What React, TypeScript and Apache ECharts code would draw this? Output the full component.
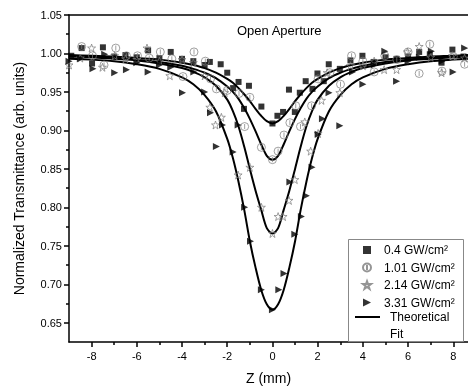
import React, { useEffect, useRef } from "react";
import * as echarts from "echarts";

// ---- Fit curves ----
const zFit = [-9, -8, -7, -6, -5, -4, -3.5, -3, -2.5, -2, -1.75, -1.5, -1.25, -1, -0.75, -0.5, -0.25, 0, 0.25, 0.5, 0.75, 1, 1.25, 1.5, 1.75, 2, 2.5, 3, 3.5, 4, 5, 6, 7, 8, 8.65];
const fit04 = [0.998, 0.997, 0.996, 0.994, 0.992, 0.988, 0.985, 0.981, 0.975, 0.967, 0.962, 0.955, 0.947, 0.938, 0.928, 0.919, 0.912, 0.909, 0.912, 0.919, 0.928, 0.938, 0.947, 0.955, 0.962, 0.967, 0.975, 0.981, 0.985, 0.988, 0.992, 0.994, 0.996, 0.997, 0.998];
const fit101 = [0.997, 0.996, 0.994, 0.992, 0.989, 0.984, 0.98, 0.975, 0.968, 0.957, 0.95, 0.941, 0.929, 0.915, 0.899, 0.882, 0.867, 0.862, 0.867, 0.882, 0.899, 0.915, 0.929, 0.941, 0.95, 0.957, 0.968, 0.975, 0.98, 0.984, 0.989, 0.992, 0.994, 0.996, 0.997];
const fit214 = [0.996, 0.995, 0.993, 0.991, 0.987, 0.981, 0.976, 0.969, 0.958, 0.94, 0.925, 0.905, 0.879, 0.85, 0.822, 0.797, 0.773, 0.766, 0.773, 0.797, 0.822, 0.85, 0.879, 0.905, 0.925, 0.94, 0.958, 0.969, 0.976, 0.981, 0.987, 0.991, 0.993, 0.995, 0.996];
const fit331 = [0.993, 0.992, 0.99, 0.986, 0.98, 0.969, 0.96, 0.946, 0.925, 0.889, 0.864, 0.833, 0.797, 0.756, 0.722, 0.693, 0.674, 0.667, 0.674, 0.693, 0.722, 0.756, 0.797, 0.833, 0.864, 0.889, 0.925, 0.946, 0.96, 0.969, 0.98, 0.986, 0.99, 0.992, 0.993];

// ---- Measured points ----
const z04 = [-8.9, -8.44, -7.98, -7.5, -7.0, -6.5, -6.0, -5.5, -5.0, -4.5, -4.0, -3.5, -3.0, -2.77, -2.29, -2.0, -1.74, -1.5, -1.26, -1.04, -0.49, 0, 0.22, 0.47, 0.73, 0.99, 1.21, 1.47, 1.77, 1.99, 2.27, 2.49, 2.98, 3.45, 3.98, 4.48, 5.0, 5.49, 6.0, 6.49, 6.96, 7.48, 7.96, 8.45];
const t04 = [0.997, 1.007, 0.987, 1.008, 0.996, 0.998, 0.995, 1.004, 0.994, 1.002, 0.993, 0.99, 0.985, 0.989, 0.986, 0.975, 0.955, 0.963, 0.928, 0.958, 0.931, 0.909, 0.919, 0.924, 0.953, 0.924, 0.949, 0.964, 0.954, 0.974, 0.964, 0.986, 0.98, 0.991, 0.997, 0.989, 0.995, 0.993, 0.996, 1.002, 0.999, 0.988, 1.005, 0.996];

const z101 = [-8.44, -7.96, -7.45, -6.93, -6.46, -5.97, -5.45, -4.96, -4.45, -3.96, -3.47, -2.97, -2.74, -2.48, -2.0, -1.48, -1.23, -1.0, -0.49, 0, 0.25, 0.51, 0.77, 1.03, 1.24, 1.73, 2.02, 2.54, 3.01, 3.5, 4.0, 4.5, 4.97, 5.5, 6.0, 6.49, 6.96, 7.5, 8.0, 8.5];
const t101 = [1.009, 0.997, 0.985, 1.007, 0.997, 0.997, 0.994, 1.002, 0.993, 0.97, 1.002, 0.99, 0.967, 0.954, 0.952, 0.948, 0.905, 0.943, 0.878, 0.862, 0.873, 0.894, 0.91, 0.932, 0.905, 0.932, 0.967, 0.975, 0.96, 0.997, 0.99, 0.976, 0.997, 0.992, 1.002, 0.974, 1.012, 0.977, 0.996, 0.986];

const z214 = [-9.0, -8.5, -8.0, -7.52, -6.98, -6.5, -6.0, -5.55, -5.0, -4.54, -4.0, -3.5, -3.0, -2.77, -2.52, -2.26, -2.11, -1.52, -1.0, -0.49, 0, 0.25, 0.47, 0.73, 0.99, 1.43, 1.69, 2.02, 2.17, 2.42, 2.98, 3.45, 4.0, 4.5, 4.94, 5.49, 5.97, 6.49, 7.0, 7.48, 7.96, 8.5];
const t214 = [0.985, 0.994, 1.007, 0.982, 0.997, 0.993, 0.992, 1.007, 0.99, 0.971, 0.992, 0.988, 0.971, 0.93, 0.907, 0.917, 0.949, 0.842, 0.852, 0.8, 0.766, 0.788, 0.788, 0.809, 0.836, 0.911, 0.873, 0.896, 0.939, 0.975, 0.949, 0.984, 0.984, 0.99, 0.979, 0.979, 1.002, 1.009, 0.995, 0.975, 0.997, 0.994];

const z331 = [-9.0, -8.5, -7.94, -7.42, -6.98, -6.46, -6.0, -5.5, -5.0, -4.5, -3.98, -3.48, -3.0, -2.74, -2.48, -2.21, -1.74, -1.52, -1.23, -0.97, -0.49, 0, 0.28, 0.51, 0.77, 0.99, 1.28, 1.5, 1.75, 2.02, 2.21, 2.5, 2.98, 3.54, 4.0, 4.5, 4.97, 5.49, 6.0, 6.5, 7.03, 7.5, 7.99, 8.5];
const t331 = [0.99, 0.993, 0.98, 0.999, 0.975, 0.979, 0.988, 0.976, 0.985, 0.982, 0.949, 0.976, 0.95, 0.923, 0.879, 0.907, 0.872, 0.907, 0.8, 0.756, 0.693, 0.667, 0.693, 0.714, 0.833, 0.765, 0.788, 0.815, 0.852, 0.895, 0.915, 0.949, 0.906, 0.976, 0.96, 0.985, 1.003, 0.964, 0.99, 0.995, 1.003, 0.99, 0.976, 1.007];

// ---- Axis ticks ----
const xMajor = [-8, -6, -4, -2, 0, 2, 4, 6, 8];
const xMinor = [-7, -5, -3, -1, 1, 3, 5, 7];
const yMajor = [0.65, 0.7, 0.75, 0.8, 0.85, 0.9, 0.95, 1.0, 1.05];
const yMinor = [0.675, 0.725, 0.775, 0.825, 0.875, 0.925, 0.975, 1.025];

const names = ["0.4 GW/cm²", "1.01 GW/cm²", "2.14 GW/cm²", "3.31 GW/cm²"];
const fitName = "Theoretical";

const FONT = "'Liberation Sans', Arial, sans-serif";
const GRAY = "#7a7a7a";

const circleBar = "path://M0,-5 A5,5 0 1,1 0,5 A5,5 0 1,1 0,-5 Z M0,-3.2 L0,3.2";
const starPath = "path://M0,-5 L1.2,-1.6 L4.8,-1.6 L1.9,0.6 L3,4.2 L0,2 L-3,4.2 L-1.9,0.6 L-4.8,-1.6 L-1.2,-1.6 Z";
const rightTri = "path://M0,0 L10,5 L0,10 Z";
const lineIcon = "path://M0,0 L25,0 L25,2 L0,2 Z";

const zip = (a: number[], b: number[]) => a.map((v, i) => [v, b[i]]);

export default function App() {
  const ref = useRef<HTMLDivElement>(null);
  useEffect(() => {
    if (!ref.current) return;
    const chart = echarts.init(ref.current, null, { renderer: "svg" });
    const fitLine = (vals: number[]) => ({
      name: fitName,
      type: "line",
      data: zip(zFit, vals),
      smooth: 0.3,
      showSymbol: false,
      symbol: "none",
      lineStyle: { color: "#000", width: 2 },
      itemStyle: { color: "#000" },
      z: 3,
    });
    const axisCommon = {
      axisLine: { show: true, onZero: false, lineStyle: { color: "#000", width: 1.5 } },
      splitLine: { show: false },
    };
    const hidden = {
      axisLine: { show: false, onZero: false },
      splitLine: { show: false },
      axisLabel: { show: false },
    };
    const legendText = { fontFamily: FONT, fontSize: 12, color: "#000" };
    chart.setOption({
      animation: false,
      textStyle: { fontFamily: FONT },
      grid: { left: 69, top: 15, right: 0, bottom: 44 },
      title: {
        text: "Open Aperture",
        left: 232,
        top: 19,
        textStyle: { fontFamily: FONT, fontSize: 13, fontWeight: "normal", color: "#000" },
      },
      xAxis: [
        {
          type: "value",
          min: -9,
          max: 8.65,
          position: "bottom",
          ...axisCommon,
          axisTick: { show: true, customValues: xMajor, length: 5, lineStyle: { color: "#000", width: 1.5 } },
          axisLabel: { customValues: xMajor, color: "#000", fontSize: 11, margin: 8, fontFamily: FONT },
          name: "Z (mm)",
          nameLocation: "middle",
          nameGap: 29,
          nameTextStyle: { fontSize: 14, color: "#000", fontFamily: FONT },
        },
        {
          type: "value",
          min: -9,
          max: 8.65,
          position: "bottom",
          ...hidden,
          axisTick: { show: true, customValues: xMinor, length: 3, lineStyle: { color: "#000", width: 1.5 } },
        },
        {
          type: "value",
          min: -9,
          max: 8.65,
          position: "top",
          ...axisCommon,
          axisTick: { show: false },
          axisLabel: { show: false },
        },
      ],
      yAxis: [
        {
          type: "value",
          min: 0.625,
          max: 1.05,
          position: "left",
          ...axisCommon,
          axisTick: { show: true, customValues: yMajor, length: 5, lineStyle: { color: "#000", width: 1.5 } },
          axisLabel: {
            customValues: yMajor,
            color: "#000",
            fontSize: 11,
            margin: 7,
            fontFamily: FONT,
            formatter: (v: number) => v.toFixed(2),
          },
          name: "Normalized Transmittance (arb. units)",
          nameLocation: "middle",
          nameGap: 43,
          nameTextStyle: { fontSize: 14, color: "#000", fontFamily: FONT },
        },
        {
          type: "value",
          min: 0.625,
          max: 1.05,
          position: "left",
          ...hidden,
          axisTick: { show: true, customValues: yMinor, length: 3, lineStyle: { color: "#000", width: 1.5 } },
        },
      ],
      legend: [
        {
          orient: "vertical",
          left: 362,
          top: 244,
          padding: 0,
          itemGap: 5.5,
          itemWidth: 8,
          itemHeight: 8,
          z: 11,
          textStyle: { ...legendText, padding: [0, 0, 0, 8] },
          data: [
            { name: names[0], icon: "rect", itemStyle: { color: "#000" } },
            { name: names[1], icon: circleBar },
            { name: names[2], icon: starPath },
            { name: names[3], icon: rightTri, itemStyle: { color: "#000" } },
          ],
        },
        {
          orient: "vertical",
          left: 355,
          top: 311,
          padding: 0,
          itemWidth: 25,
          itemHeight: 2,
          z: 11,
          textStyle: { ...legendText, padding: [0, 0, 0, 5] },
          data: [{ name: fitName, icon: lineIcon, itemStyle: { color: "#000" } }],
        },
      ],
      graphic: [
        {
          type: "rect",
          z: 10,
          shape: { x: 348.5, y: 239.5, width: 115, height: 102 },
          style: { fill: "#fff", stroke: "#888", lineWidth: 1 },
        },
        {
          type: "text",
          left: 390,
          top: 328,
          z: 12,
          style: { text: "Fit", font: `12px ${FONT}`, fill: "#000" },
        },
      ],
      series: [
        fitLine(fit04),
        fitLine(fit101),
        fitLine(fit214),
        fitLine(fit331),
        {
          name: names[0],
          type: "scatter",
          data: zip(z04, t04),
          symbol: "rect",
          symbolSize: 6,
          itemStyle: { color: "#000" },
          z: 4,
        },
        {
          name: names[1],
          type: "scatter",
          data: zip(z101, t101),
          symbol: circleBar,
          symbolSize: 8,
          itemStyle: { color: "rgba(255,255,255,0)", borderColor: GRAY, borderWidth: 0.9 },
          z: 4,
        },
        {
          name: names[2],
          type: "scatter",
          data: zip(z214, t214),
          symbol: starPath,
          symbolSize: 8,
          itemStyle: { color: "rgba(255,255,255,0)", borderColor: GRAY, borderWidth: 0.9 },
          z: 4,
        },
        {
          name: names[3],
          type: "scatter",
          data: zip(z331, t331),
          symbol: rightTri,
          symbolSize: 7,
          itemStyle: { color: "#000" },
          z: 4,
        },
      ],
    });
    return () => chart.dispose();
  }, []);
  return <div ref={ref} style={{ position: "fixed", left: 0, top: 0, width: 468, height: 390 }} />;
}
